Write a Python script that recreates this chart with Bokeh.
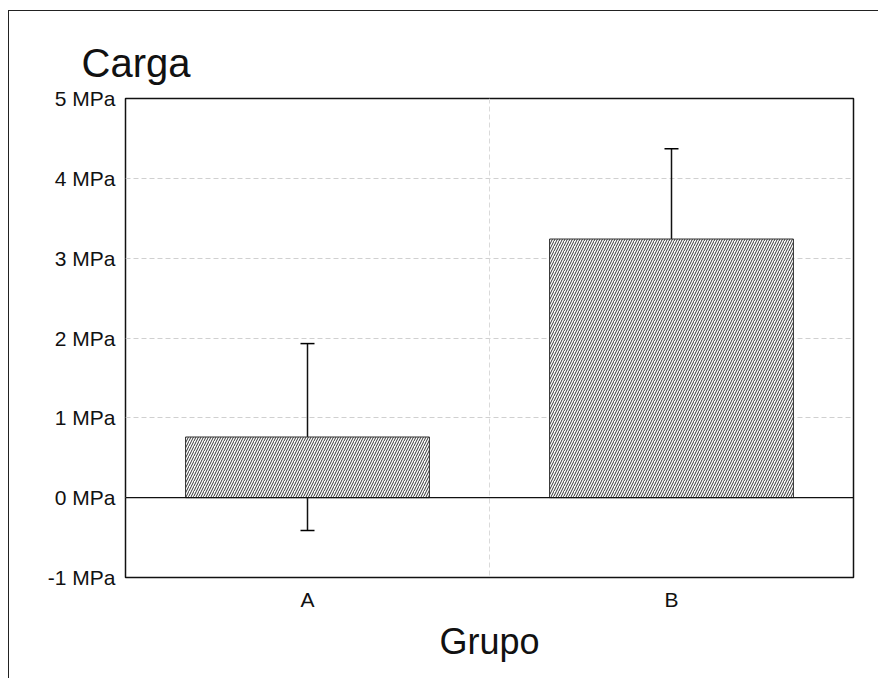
from bokeh.plotting import figure
from bokeh.models import (ColumnDataSource, FactorRange, Range1d, FixedTicker,
                          Whisker, Span)
from bokeh.embed import file_html
from bokeh.resources import INLINE

# ---- data ----
groups = ["A", "B"]
means = [0.76, 3.24]
sds = [1.17, 1.13]
y_ticks = [-1, 0, 1, 2, 3, 4, 5]
y_tick_labels = ["-1 MPa", "0 MPa", "1 MPa", "2 MPa", "3 MPa", "4 MPa", "5 MPa"]
title_text = "Carga"
x_title = "Grupo"

FONT = "Liberation Sans"

source = ColumnDataSource(dict(
    grp=groups,
    mean=means,
    upper=[m + s for m, s in zip(means, sds)],
    lower=[m - s for m, s in zip(means, sds)],
))

p = figure(width=870, height=668, output_backend="svg", toolbar_location=None,
           x_range=FactorRange(factors=groups, range_padding=0),
           y_range=Range1d(y_ticks[0], y_ticks[-1]),
           min_border_left=116, min_border_right=26,
           min_border_top=87, min_border_bottom=102)

p.margin = (10, 0, 0, 8)
p.styles = {"border-left": "1px solid #222", "border-top": "1px solid #222"}

p.outline_line_color = "#111"
p.outline_line_width = 1.5

# grid
p.xgrid.visible = False
p.ygrid.ticker = FixedTicker(ticks=y_ticks)
p.ygrid.grid_line_color = "#d0d0d0"
p.ygrid.grid_line_dash = "5 3"
p.ygrid.grid_line_width = 1
p.add_layout(Span(location=1, dimension="height", line_color="#dadada",
                  line_dash="5 3", line_width=1, level="underlay"))

# bars
p.vbar(x="grp", top="mean", bottom=0, width=0.67, source=source,
       fill_color="white", line_color="#333", line_width=1,
       hatch_pattern="/", hatch_scale=5, hatch_weight=1, hatch_color="#333")

# zero line
p.add_layout(Span(location=0, dimension="width", line_color="#111", line_width=1.2))

# error bars
w = Whisker(base="grp", upper="upper", lower="lower", source=source,
            line_color="#111", line_width=1.5)
w.upper_head.size = 14
w.lower_head.size = 14
w.upper_head.line_width = 1.5
w.lower_head.line_width = 1.5
p.add_layout(w)

# y axis
p.yaxis.ticker = FixedTicker(ticks=y_ticks)
p.yaxis.major_label_overrides = {t: l for t, l in zip(y_ticks, y_tick_labels)}
p.yaxis.axis_line_color = None
p.yaxis.major_tick_line_color = None
p.yaxis.minor_tick_line_color = None
p.yaxis.major_label_text_font = FONT
p.yaxis.major_label_text_font_size = "21px"
p.yaxis.major_label_text_color = "#111"
p.yaxis.major_label_standoff = 4

# x axis
p.xaxis.axis_line_color = None
p.xaxis.major_tick_line_color = None
p.xaxis.minor_tick_line_color = None
p.xaxis.major_label_text_font = FONT
p.xaxis.major_label_text_font_size = "21px"
p.xaxis.major_label_text_color = "#111"
p.xaxis.major_label_standoff = 4
p.xaxis.axis_label = x_title
p.xaxis.axis_label_text_font = FONT
p.xaxis.axis_label_text_font_size = "36px"
p.xaxis.axis_label_text_font_style = "normal"
p.xaxis.axis_label_text_color = "#111"
p.xaxis.axis_label_standoff = 7

# title
p.title.text = title_text
p.title.text_font = FONT
p.title.text_font_size = "40px"
p.title.text_font_style = "normal"
p.title.text_color = "#111"
p.title.align = "left"
p.title.offset = -44
p.title.standoff = 28

open("out.html", "w").write(file_html(p, INLINE))
